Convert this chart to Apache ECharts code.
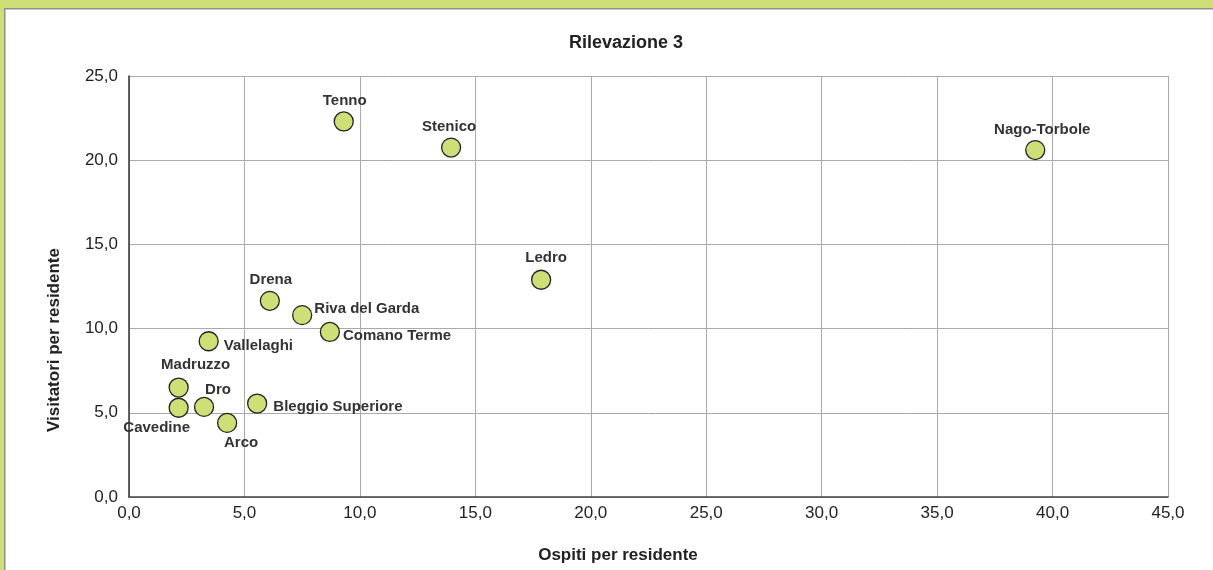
<!DOCTYPE html>
<html>
<head>
<meta charset="utf-8">
<script src="https://cdn.jsdelivr.net/npm/echarts@6/dist/echarts.min.js"></script>
<style>
html,body{margin:0;padding:0;background:#fff;}
#c{width:1213px;height:570px;}
</style>
</head>
<body>
<div id="c"></div>
<script>
const names = ['Tenno','Stenico','Nago-Torbole','Ledro','Drena','Riva del Garda','Comano Terme','Vallelaghi','Madruzzo','Dro','Cavedine','Bleggio Superiore','Arco'];
const ospiti = [9.3, 13.95, 39.25, 17.85, 6.1, 7.5, 8.7, 3.45, 2.15, 3.25, 2.15, 5.55, 4.25];
const visitatori = [22.3, 20.75, 20.6, 12.9, 11.65, 10.8, 9.8, 9.25, 6.5, 5.35, 5.3, 5.55, 4.4];
const xTicks = ['0,0','5,0','10,0','15,0','20,0','25,0','30,0','35,0','40,0','45,0'];
const yTicks = ['0,0','5,0','10,0','15,0','20,0','25,0'];
const titleText = 'Rilevazione 3';
const xName = 'Ospiti per residente';
const yName = 'Visitatori per residente';

// label placement per point
const labelPos = {
  'Tenno': {position:'top', offset:[1,0]},
  'Stenico': {position:'top', offset:[-2,0]},
  'Nago-Torbole': {position:'top', offset:[7,0]},
  'Ledro': {position:'top', offset:[5,-1]},
  'Drena': {position:'top', offset:[1,0]},
  'Madruzzo': {position:'top', offset:[17,-2]},
  'Riva del Garda': {position:'right', offset:[-1,-6]},
  'Comano Terme': {position:'right', offset:[0,4]},
  'Vallelaghi': {position:'right', offset:[2,5]},
  'Bleggio Superiore': {position:'right', offset:[3,3]},
  'Dro': {position:'top', offset:[14,4]},
  'Cavedine': {position:'bottom', offset:[-22,-1]},
  'Arco': {position:'bottom', offset:[14,-1]}
};

const font = 'Liberation Sans, Arial, sans-serif';
const data = names.map((n,i)=>({
  name:n,
  value:[ospiti[i], visitatori[i]],
  label:{show:true, formatter:n, position:labelPos[n].position, offset:labelPos[n].offset, distance:3}
}));

const chart = echarts.init(document.getElementById('c'), null, {renderer:'canvas'});
chart.setOption({
  backgroundColor:'#ffffff',
  animation:false,
  textStyle:{fontFamily:font},
  title:{
    text:titleText,
    left:621, top:29, textAlign:'center',
    textStyle:{fontFamily:font, fontSize:18, fontWeight:'bold', color:'#222'}
  },
  graphic:[
    {type:'rect', shape:{x:0,y:0,width:1213,height:8}, style:{fill:'#cddf75'}, silent:true},
    {type:'rect', shape:{x:0,y:8,width:1213,height:1.5}, style:{fill:'#8f8f8f'}, silent:true},
    {type:'rect', shape:{x:0,y:0,width:4,height:570}, style:{fill:'#cddf75'}, silent:true},
    {type:'rect', shape:{x:4,y:8,width:1.5,height:562}, style:{fill:'#8f8f8f'}, silent:true},
    {type:'text', x:618, y:555, style:{text:xName, fill:'#222', font:'bold 17px ' + font, textAlign:'center', textVerticalAlign:'middle'}, silent:true},
    {type:'text', x:54, y:340, rotation:Math.PI/2, style:{text:yName, fill:'#222', font:'bold 17px ' + font, textAlign:'center', textVerticalAlign:'middle'}, silent:true}
  ],
  grid:{left:129, right:45, top:76, bottom:73, containLabel:false},
  xAxis:{
    type:'value', min:0, max:45, interval:5,
    axisLine:{show:true, onZero:false, lineStyle:{color:'#444', width:1.5}},
    axisTick:{show:false},
    axisLabel:{fontFamily:font, fontSize:17, color:'#222', margin:8,
      formatter:(v)=>xTicks[Math.round(v/5)]},
    splitLine:{show:true, lineStyle:{color:'#aaaaaa', width:1}}
  },
  yAxis:{
    type:'value', min:0, max:25, interval:5,
    axisLine:{show:true, onZero:false, lineStyle:{color:'#333', width:1.5}},
    axisTick:{show:false},
    axisLabel:{fontFamily:font, fontSize:17, color:'#222', margin:11,
      formatter:(v)=>yTicks[Math.round(v/5)]},
    splitLine:{show:true, lineStyle:{color:'#aaaaaa', width:1}}
  },
  series:[{
    type:'scatter',
    data:data,
    symbol:'circle',
    symbolSize:19,
    itemStyle:{color:'#cddf76', borderColor:'#222', borderWidth:1.3, opacity:1},
    label:{fontFamily:font, fontSize:15, fontWeight:'bold', color:'#333'}
  }]
});
</script>
</body>
</html>
